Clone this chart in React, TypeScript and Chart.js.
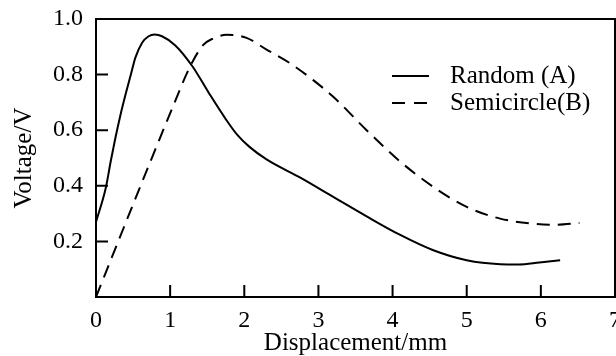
import React, { useEffect, useRef } from "react";
import { Chart, registerables } from "chart.js";

Chart.register(...registerables);

const randomX = [0, 0.13, 0.2, 0.26, 0.33, 0.4, 0.47, 0.53, 0.62, 0.71, 0.79, 0.89, 1.07, 1.3, 1.52, 1.75, 1.9, 2.07, 2.3, 2.75, 3.2, 3.65, 4.09, 4.55, 5.0, 5.45, 5.7, 5.98, 6.26];
const randomY = [0.27, 0.39, 0.49, 0.57, 0.655, 0.73, 0.8, 0.86, 0.914, 0.938, 0.944, 0.938, 0.905, 0.83, 0.735, 0.64, 0.585, 0.54, 0.495, 0.43, 0.36, 0.29, 0.225, 0.168, 0.132, 0.118, 0.117, 0.124, 0.132];

const semiX = [0, 0.375, 0.735, 1.03, 1.26, 1.44, 1.58, 1.76, 2.03, 2.3, 2.61, 2.93, 3.2, 3.65, 4.09, 4.55, 5.0, 5.45, 5.89, 6.21, 6.52];
const semiY = [0.0, 0.25, 0.488, 0.68, 0.824, 0.905, 0.93, 0.943, 0.932, 0.89, 0.842, 0.78, 0.72, 0.6, 0.49, 0.396, 0.324, 0.282, 0.264, 0.26, 0.266];

const seriesLabels = ["Random (A)", "Semicircle(B)"];
const xTitle = "Displacement/mm";
const yTitle = "Voltage/V";
const xTicks = [0, 1, 2, 3, 4, 5, 6, 7];
const yTicks = [0.2, 0.4, 0.6, 0.8, 1.0];

const FONT = "'Liberation Serif', 'Times New Roman', serif";

const framePlugin = {
  id: "frame",
  afterDraw(chart: any) {
    const { ctx, chartArea } = chart;
    const xs = chart.scales.x;
    const ys = chart.scales.y;
    ctx.save();
    ctx.strokeStyle = "#000";
    ctx.lineWidth = 2;
    ctx.strokeRect(chartArea.left, chartArea.top, chartArea.right - chartArea.left, chartArea.bottom - chartArea.top);
    ctx.beginPath();
    xTicks.forEach((t) => {
      if (t === 0 || t === 7) return;
      const px = xs.getPixelForValue(t);
      ctx.moveTo(px, chartArea.bottom);
      ctx.lineTo(px, chartArea.bottom - 12);
    });
    yTicks.forEach((t) => {
      if (t === 1.0) return;
      const py = ys.getPixelForValue(t);
      ctx.moveTo(chartArea.left, py);
      ctx.lineTo(chartArea.left + 12, py);
    });
    ctx.stroke();

    // legend
    const lx = chartArea.left + 296;
    const rows = [chartArea.top + 57, chartArea.top + 84];
    ctx.font = `25px ${FONT}`;
    ctx.fillStyle = "#000";
    ctx.textBaseline = "middle";
    rows.forEach((ry, i) => {
      ctx.beginPath();
      ctx.setLineDash(i === 0 ? [] : [13, 9]);
      ctx.moveTo(lx, ry);
      ctx.lineTo(lx + 37, ry);
      ctx.stroke();
      ctx.setLineDash([]);
      ctx.fillText(seriesLabels[i], lx + 58, ry);
    });
    ctx.restore();
  },
};

export default function App() {
  const ref = useRef<HTMLCanvasElement | null>(null);
  useEffect(() => {
    document.body.style.margin = "0";
    const ctx = ref.current!;
    const chart = new Chart(ctx, {
      type: "scatter",
      data: {
        datasets: [
          {
            label: seriesLabels[0],
            data: randomX.map((x, i) => ({ x, y: randomY[i] })),
            showLine: true,
            borderColor: "#000",
            borderWidth: 2,
            pointRadius: 0,
            cubicInterpolationMode: "monotone",
          },
          {
            label: seriesLabels[1],
            data: semiX.map((x, i) => ({ x, y: semiY[i] })),
            showLine: true,
            borderColor: "#000",
            borderWidth: 2,
            borderDash: [13, 8],
            pointRadius: 0,
            cubicInterpolationMode: "monotone",
          },
        ],
      },
      options: {
        animation: false,
        responsive: false,
        layout: { padding: { top: 19, right: 1, left: 0, bottom: 0 } },
        plugins: { legend: { display: false }, tooltip: { enabled: false } },
        scales: {
          x: {
            type: "linear",
            min: 0,
            max: 7,
            afterFit: (s: any) => {
              s.height = 59;
              s.paddingLeft = 0;
              s.paddingRight = 0;
            },
            afterBuildTicks: (s: any) => {
              s.ticks = xTicks.map((v) => ({ value: v }));
            },
            grid: { drawOnChartArea: false, drawTicks: false },
            border: { display: false },
            ticks: {
              color: "#000",
              font: { family: FONT, size: 24 },
              padding: 9,
              maxRotation: 0,
              autoSkip: false,
              callback: (v: any) => String(v),
            },
            title: {
              display: true,
              text: xTitle,
              color: "#000",
              font: { family: FONT, size: 25, lineHeight: 1.0 },
              padding: { top: 0, bottom: 0 },
            },
          },
          y: {
            type: "linear",
            min: 0,
            max: 1.0,
            afterFit: (s: any) => {
              s.width = 96;
              s.paddingTop = 0;
              s.paddingBottom = 0;
            },
            afterBuildTicks: (s: any) => {
              s.ticks = yTicks.map((v) => ({ value: v }));
            },
            grid: { drawOnChartArea: false, drawTicks: false },
            border: { display: false },
            ticks: {
              color: "#000",
              font: { family: FONT, size: 24 },
              padding: 13,
              autoSkip: false,
              callback: (v: any) => Number(v).toFixed(1),
            },
            title: {
              display: true,
              text: yTitle,
              color: "#000",
              font: { family: FONT, size: 25, lineHeight: 1.2 },
              padding: { top: 9, bottom: 0 },
            },
          },
        },
      },
      plugins: [framePlugin],
    } as any);
    return () => chart.destroy();
  }, []);
  return (
    <div style={{ position: "absolute", left: 0, top: 0, width: 616, height: 356 }}>
      <canvas ref={ref} width={616} height={356} style={{ width: 616, height: 356, display: "block" }} />
    </div>
  );
}
